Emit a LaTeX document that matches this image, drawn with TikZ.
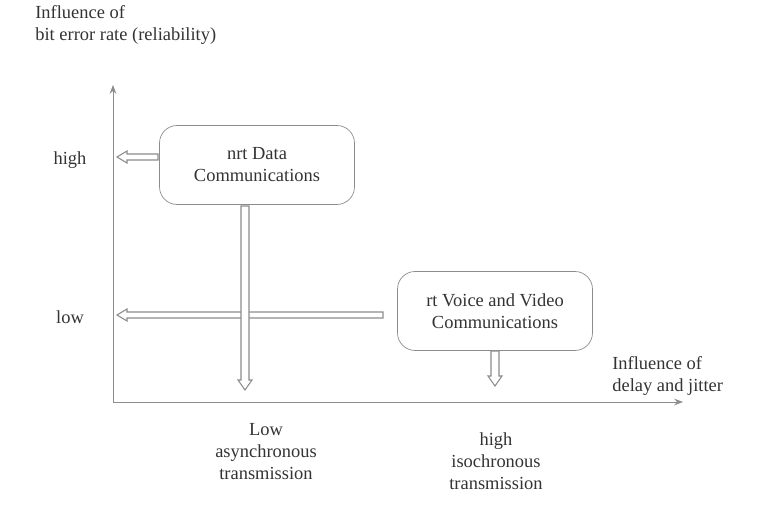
\documentclass[tikz,border=0pt]{standalone}
\usepackage{fontspec}
\setmainfont{Liberation Serif}
\usetikzlibrary{positioning,arrows.meta}
\definecolor{axisgray}{HTML}{8C8C8C}
\definecolor{txtgray}{HTML}{333333}
\tikzset{
  svcbox/.style={draw=axisgray, rounded corners=10pt, minimum width=3.9cm, minimum height=1.58cm, align=center, text=txtgray},
  lbl/.style={text=txtgray, align=center, inner sep=0pt},
  hollow/.style={draw=axisgray, fill=white, line width=0.6pt}
}
% hollow block arrows: left (x1 -> x2 at y) and down (y1 -> y2 at x)
\newcommand\leftblock[3]{\draw[hollow] (#1,#3-3) -- (#2+10,#3-3) -- (#2+10,#3-6) -- (#2,#3) -- (#2+10,#3+6) -- (#2+10,#3+3) -- (#1,#3+3) -- cycle;}
\newcommand\downblock[3]{\draw[hollow] (#3-4,#1) -- (#3-4,#2-10) -- (#3-7,#2-10) -- (#3,#2) -- (#3+7,#2-10) -- (#3+4,#2-10) -- (#3+4,#1) -- cycle;}
\begin{document}
\begin{tikzpicture}[x=0.02cm, y=-0.02cm, font=\fontsize{10.5}{12.5}\selectfont]
    \useasboundingbox (0,0) rectangle (772,516);
    % axes
    \coordinate (o) at (113,402);
    \coordinate (ytop) at (113,85);
    \coordinate (xend) at (683,402);
    \draw[axisgray, -{Stealth[length=5pt]}] (o) -- (ytop);
    \draw[axisgray, -{Stealth[length=5pt]}] (o) -- (xend);

    % axis labels
    \node (ylab) [lbl, align=left, anchor=north west] at (35,5) {Influence of\\bit error rate (reliability)};
    \node (xlab) [lbl, align=left, anchor=north west] at (612,356) {Influence of\\delay and jitter};
    \node (high) [lbl] at (70,160) {high};
    \node (low) [lbl] at (70,317) {low};
    \node (async) [lbl, anchor=north] at (266,423) {Low\\asynchronous\\transmission};
    \node (iso) [lbl, anchor=north] at (496,432) {high\\isochronous\\transmission};

    % service classes
    \node (nrt) [svcbox] at (257,165) {nrt Data\\Communications};
    \node (rt) [svcbox] at (495,311) {rt Voice and Video\\Communications};

    % hollow arrows
    \leftblock{383}{117}{315}
    \downblock{206}{390}{245}
    \leftblock{158}{117}{157}
    \downblock{351}{386}{495}
\end{tikzpicture}
\end{document}
